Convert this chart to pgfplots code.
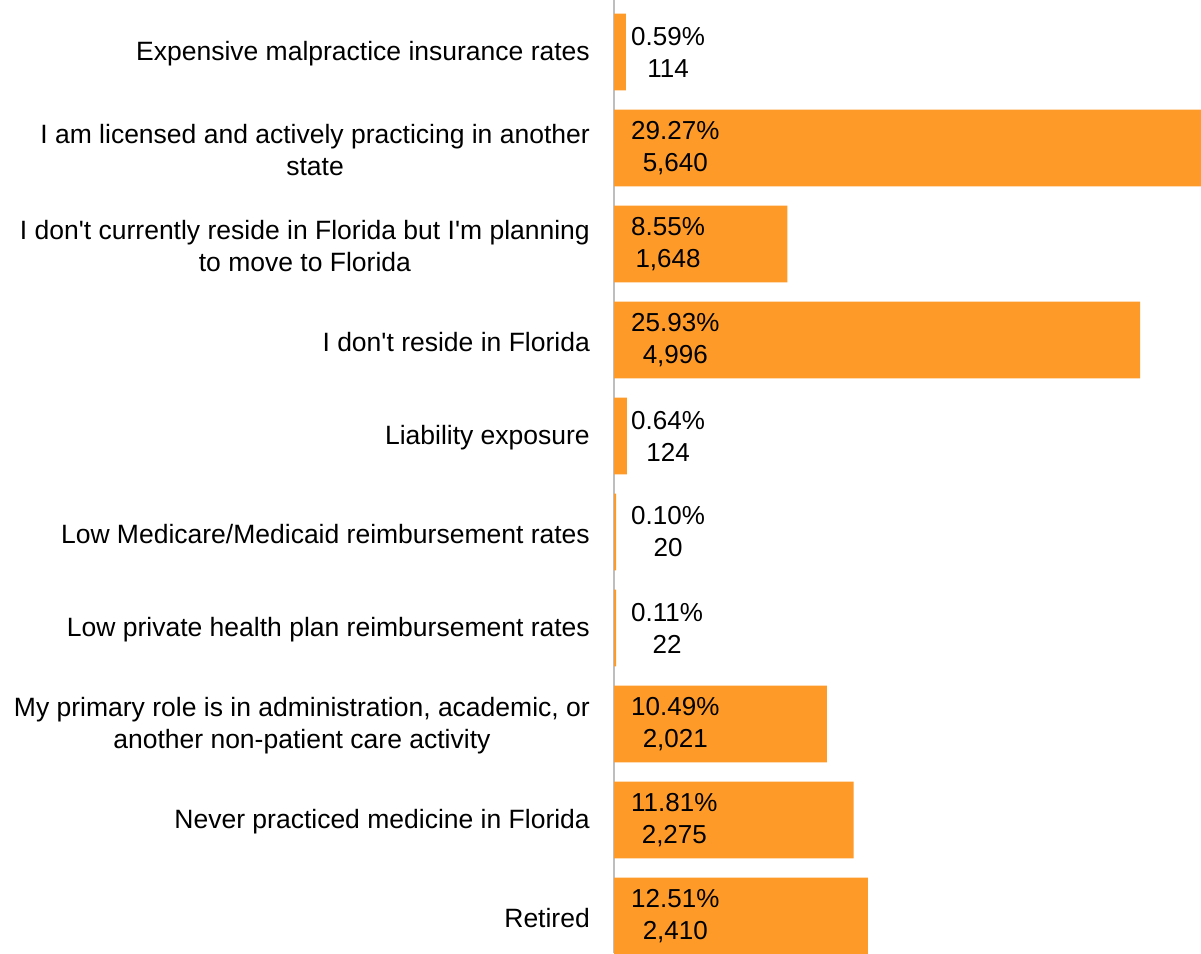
\documentclass[border=0pt]{standalone}
\usepackage{pgfplots}
\pgfplotsset{compat=1.18}
\usepackage{fontspec}
\setmainfont{Liberation Sans}
\definecolor{barorange}{RGB}{254,154,40}
\definecolor{axisgray}{RGB}{190,190,190}
\newcommand{\chartfont}{\fontsize{26}{32}\selectfont}
\newcommand{\labelfont}{\fontsize{26.5}{32}\selectfont}
\newcommand{\q}{\textquotesingle}
\begin{document}
\begin{tikzpicture}[font=\chartfont]
\begin{axis}[
  at={(614pt,0pt)}, anchor=south west,
  scale only axis, width=587pt, height=953pt,
  xmin=0, xmax=28.93,
  ymin=0.458, ymax=10.385,
  y dir=reverse,
  axis x line*=bottom, axis y line*=left,
  x axis line style={draw=none},
  y axis line style={axisgray, line width=2pt},
  xtick=\empty,
  ytick={1,2,3,4,5,6,7,8,9,10},
  yticklabels={
    Expensive malpractice insurance rates,
    {I am licensed and actively practicing in another\\state},
    {I don\q t currently reside in Florida but I\q m planning\\to move to Florida},
    I don\q t reside in Florida,
    Liability exposure,
    Low Medicare/Medicaid reimbursement rates,
    Low private health plan reimbursement rates,
    {My primary role is in administration, academic, or\\another non-patient care activity},
    Never practiced medicine in Florida,
    Retired},
  major tick length=0pt,
  ytick style={draw=none},
  yticklabel style={align=center, inner sep=0pt, xshift=-24pt, yshift=-1.5pt, font=\labelfont, text=black},
  clip=true,
]
\addplot[xbar, bar width=0.8, fill=barorange, draw=none] coordinates {
  (0.59,1) (29.27,2) (8.55,3) (25.93,4) (0.64,5)
  (0.10,6) (0.11,7) (10.49,8) (11.81,9) (12.51,10)
};
\addplot[only marks, mark=none,
  point meta=explicit symbolic,
  nodes near coords,
  every node near coord/.append style={anchor=west, xshift=17pt, inner sep=0pt, align=center, font=\chartfont, text=black}
] coordinates {
  (0,1) [{0.59\%\\114}]
  (0,2) [{29.27\%\\5,640}]
  (0,3) [{8.55\%\\1,648}]
  (0,4) [{25.93\%\\4,996}]
  (0,5) [{0.64\%\\124}]
  (0,6) [{0.10\%\\20}]
  (0,7) [{0.11\%\\22}]
  (0,8) [{10.49\%\\2,021}]
  (0,9) [{11.81\%\\2,275}]
  (0,10) [{12.51\%\\2,410}]
};
\end{axis}
\pgfresetboundingbox
\path[use as bounding box] (0,0) rectangle (1201pt,953pt);
\end{tikzpicture}
\end{document}
